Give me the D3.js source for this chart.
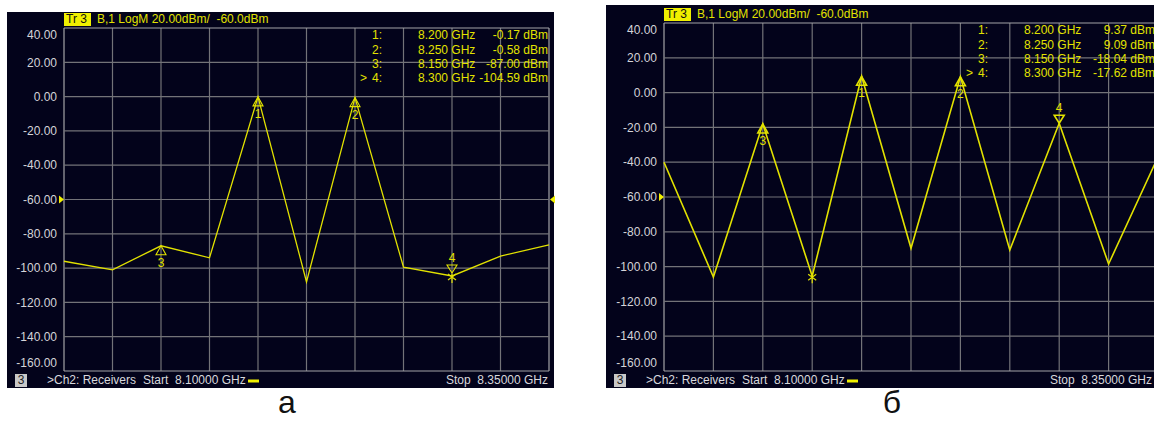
<!DOCTYPE html>
<html><head><meta charset="utf-8">
<script src="https://cdn.jsdelivr.net/npm/d3@7"></script>
<style>
body{margin:0;background:#fff}
svg{display:block}
text{font-family:"Liberation Sans",Arial,sans-serif}
</style>
</head><body>
<svg id="c" width="1154" height="421"></svg>
<script>
// ---- data ----
const freqs = [8.100, 8.125, 8.150, 8.175, 8.200, 8.225, 8.250, 8.275, 8.300, 8.325, 8.350];
const yTicks = [40, 20, 0, -20, -40, -60, -80, -100, -120, -140, -160];
const traceA = [-96, -101, -87, -94, -0.17, -108, -0.58, -99.5, -104.59, -93, -86.5];
const traceB = [-40, -106, -18.04, -105.5, 9.37, -89.5, 9.09, -90.5, -17.62, -98.5, -37];
const markerIds = [1, 2, 3, 4];
const markerFreqs = [8.200, 8.250, 8.150, 8.300];
const markerValsA = [-0.17, -0.58, -87.00, -104.59];
const markerValsB = [9.37, 9.09, -18.04, -17.62];
const markerDirs = ["up", "up", "up", "down"];
const activeMarker = 4;
const starFreqA = 8.300, starValA = -104.59;
const starFreqB = 8.175, starValB = -105.5;
const headerText = "B,1 LogM 20.00dBm/  -60.0dBm";
const refLevel = -60;
const footerChannel = ">Ch2: Receivers";
const footerStart = "Start  8.10000 GHz";
const footerStop = "Stop  8.35000 GHz";
const panelLabels = ["а", "б"];

const svg = d3.select("#c");
const YEL = "#e2e200";

function drawPanel(o) {
  const g = svg.append("g");
  g.append("rect").attr("x", o.bx0).attr("y", o.by0).attr("width", o.bx1 - o.bx0).attr("height", o.by1 - o.by0).attr("fill", "#03031b");
  const x = d3.scaleLinear().domain([freqs[0], freqs[freqs.length - 1]]).range([o.px0, o.px1]);
  const y = d3.scaleLinear().domain([-160, 40]).range([o.py1, o.py0]);

  // grid
  g.append("g").selectAll("line").data(freqs).join("line")
    .attr("x1", d => x(d)).attr("x2", d => x(d)).attr("y1", o.py0).attr("y2", o.py1)
    .attr("stroke", (d, i) => (i === 0 || i === freqs.length - 1) ? "#a4a4a8" : "#737378").attr("stroke-width", 1.2);
  g.append("g").selectAll("line").data(yTicks).join("line")
    .attr("x1", o.px0).attr("x2", o.px1).attr("y1", d => y(d)).attr("y2", d => y(d))
    .attr("stroke", (d, i) => (i === 0 || i === yTicks.length - 1) ? "#a4a4a8" : "#737378").attr("stroke-width", 1.2);

  // y labels
  g.append("g").selectAll("text").data(yTicks).join("text")
    .attr("x", o.px0 - 7)
    .attr("y", (d, i) => (i === 0 ? y(d) + 7 : i === yTicks.length - 1 ? y(d) - 8 : y(d)))
    .attr("dy", "0.35em").attr("text-anchor", "end").attr("font-size", 12).attr("fill", "#d4d4d8")
    .text(d => d.toFixed(2));

  // header
  g.append("rect").attr("x", o.px0).attr("y", o.hy - 6).attr("width", 27).attr("height", 13).attr("fill", "#f0f000");
  g.append("text").attr("x", o.px0 + 2).attr("y", o.hy).attr("dy", "0.35em").attr("font-size", 12).attr("fill", "#101010")
    .attr("xml:space", "preserve").text("Tr 3");
  g.append("text").attr("x", o.px0 + 33).attr("y", o.hy).attr("dy", "0.35em").attr("font-size", 12).attr("fill", YEL)
    .attr("xml:space", "preserve").text(headerText);

  // reference level arrows
  const ry = y(refLevel);
  g.append("path").attr("d", `M${o.px0 - 5},${ry - 4}L${o.px0},${ry}L${o.px0 - 5},${ry + 4}Z`).attr("fill", "#f0f000");
  if (o.rightRef) g.append("path").attr("d", `M${o.px1 + 6},${ry - 4}L${o.px1 + 1},${ry}L${o.px1 + 6},${ry + 4}Z`).attr("fill", "#f0f000");

  // trace
  g.append("path").datum(o.trace.map((v, i) => [freqs[i], v]))
    .attr("d", d3.line().x(d => x(d[0])).y(d => y(d[1])))
    .attr("fill", "none").attr("stroke", YEL).attr("stroke-width", o.lw).attr("stroke-linejoin", "miter");

  // markers
  markerIds.forEach((id, i) => {
    const mx = x(markerFreqs[i]), my = y(o.mvals[i]);
    if (markerDirs[i] === "up") {
      g.append("path").attr("d", `M${mx},${my}L${mx + 5},${my + 9}L${mx - 5},${my + 9}Z`)
        .attr("fill", "none").attr("stroke", YEL).attr("stroke-width", o.mw);
      g.append("text").attr("x", mx).attr("y", my + 17).attr("dy", "0.35em").attr("text-anchor", "middle")
        .attr("font-size", 12).attr("fill", YEL).text(id);
    } else {
      const t = my - o.downOff;
      g.append("path").attr("d", `M${mx},${t}L${mx + 5},${t - 8}L${mx - 5},${t - 8}Z`)
        .attr("fill", "none").attr("stroke", YEL).attr("stroke-width", o.mw);
      g.append("text").attr("x", mx).attr("y", t - 15).attr("dy", "0.35em").attr("text-anchor", "middle")
        .attr("font-size", 12).attr("fill", YEL).text(id);
    }
  });
  // search star
  const sx = x(o.starF), sy = y(o.starV) + 1;
  g.append("path").attr("d", `M${sx - 4},${sy - 3}L${sx + 4},${sy + 3}M${sx + 4},${sy - 3}L${sx - 4},${sy + 3}M${sx},${sy - 3}L${sx},${sy + 6}`)
    .attr("stroke", YEL).attr("stroke-width", 1.2);

  // marker table
  markerIds.forEach((id, i) => {
    const ty = o.ty0 + i * o.tdy;
    g.append("text").attr("x", o.px1 - o.cCol).attr("y", ty).attr("dy", "0.35em").attr("text-anchor", "end")
      .attr("font-size", 12).attr("fill", YEL).text(id + ":");
    if (id === activeMarker) g.append("text").attr("x", o.px1 - o.cCol - 15).attr("y", ty).attr("dy", "0.35em")
      .attr("text-anchor", "end").attr("font-size", 12).attr("fill", YEL).text(">");
    g.append("text").attr("x", o.px1 - o.fCol).attr("y", ty).attr("dy", "0.35em")
      .attr("font-size", 12).attr("fill", YEL).text(markerFreqs[i].toFixed(3) + " GHz");
    g.append("text").attr("x", o.px1 - o.vCol).attr("y", ty).attr("dy", "0.35em").attr("text-anchor", "end")
      .attr("font-size", 12).attr("fill", YEL).text(o.mvals[i].toFixed(2) + " dBm");
  });

  // footer
  const fy = o.fy;
  g.append("rect").attr("x", o.bx0 + 8).attr("y", fy - 6).attr("width", 12).attr("height", 13).attr("fill", "#c8c8c8");
  g.append("text").attr("x", o.bx0 + 14).attr("y", fy).attr("dy", "0.35em").attr("text-anchor", "middle")
    .attr("font-size", 12).attr("fill", "#202020").text("3");
  g.append("text").attr("x", o.bx0 + 40).attr("y", fy).attr("dy", "0.35em").attr("font-size", 12).attr("fill", "#d8d8dc").text(footerChannel);
  g.append("text").attr("x", o.bx0 + 136).attr("y", fy).attr("dy", "0.35em").attr("font-size", 12).attr("fill", "#d8d8dc")
    .attr("xml:space", "preserve").text(footerStart);
  g.append("line").attr("x1", o.bx0 + 241).attr("x2", o.bx0 + 252).attr("y1", fy + 1).attr("y2", fy + 1)
    .attr("stroke", "#f0f000").attr("stroke-width", 3);
  g.append("text").attr("x", Math.min(o.px1 - 1, 1152)).attr("y", fy).attr("dy", "0.35em").attr("text-anchor", "end").attr("font-size", 12)
    .attr("fill", "#d8d8dc").attr("xml:space", "preserve").text(footerStop);

  // panel label
  svg.append("text").attr("x", o.lx).attr("y", 413).attr("text-anchor", "middle").attr("font-size", 32)
    .attr("fill", "#111").text(o.label);
}

drawPanel({bx0: 7, bx1: 554, by0: 12, by1: 388, px0: 64, px1: 549, py0: 28, py1: 371, hy: 19, fy: 380,
  trace: traceA, mvals: markerValsA, mw: 1.1, lw: 1.3, downOff: 3, starF: starFreqA, starV: starValA, rightRef: true,
  ty0: 35, tdy: 14.3, cCol: 167, fCol: 131, vCol: 1, lx: 287, label: panelLabels[0]});
drawPanel({bx0: 606, bx1: 1163, by0: 5, by1: 388, px0: 664, px1: 1158, py0: 23, py1: 371, hy: 14, fy: 380,
  trace: traceB, mvals: markerValsB, mw: 1.6, lw: 1.6, downOff: 0, starF: starFreqB, starV: starValB, rightRef: false,
  ty0: 30, tdy: 14.4, cCol: 170, fCol: 134, vCol: 3, lx: 892, label: panelLabels[1]});
</script>
</body></html>
